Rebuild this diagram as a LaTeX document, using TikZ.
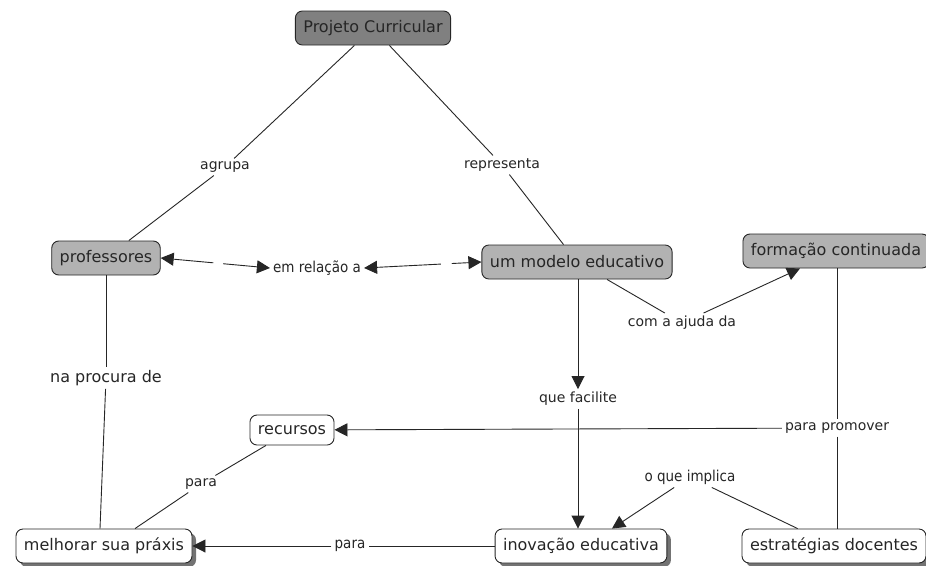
\documentclass[tikz,border=0pt]{standalone}
\usepackage{fontspec}
\setmainfont{DejaVu Sans}
\newfontfamily\condfont{DejaVu Sans Condensed}
\usetikzlibrary{arrows.meta,shadows}
\begin{document}
\begin{tikzpicture}[x=1pt,y=-1pt,
  concept/.style={draw=black!85,line width=0.9pt,rounded corners=7pt,inner xsep=8pt,
    font=\fontsize{16}{18}\selectfont,text=black!85,minimum height=34pt},
  graybox/.style={concept,fill=black!30},
  darkbox/.style={concept,fill=black!50},
  plainbox/.style={concept,fill=white},
  whitebox/.style={concept,fill=white,drop shadow={shadow xshift=4pt,shadow yshift=-4pt,fill=black!55,opacity=1}},
  lbl/.style={font=\fontsize{14}{16}\selectfont,text=black!85,inner sep=3pt},
  clbl/.style={font=\condfont\fontsize{15}{17}\selectfont,text=black!85,inner sep=3pt},
  conn/.style={draw=black!85,line width=0.9pt},
  arr/.style={conn,-{Triangle[length=13pt,width=13pt]}},
]
\useasboundingbox[fill=white] (0,0) rectangle (926,565);
% concepts
\node[darkbox] (pc) at (373,28) {Projeto Curricular};
\node[graybox] (prof) at (106,258) {professores};
\node[graybox] (mod) at (577,262) {um modelo educativo};
\node[graybox] (form) at (836,251) {formação continuada};
\node[plainbox,minimum height=30pt] (rec) at (292,430) {recursos};
\node[whitebox] (mel) at (104,546) {melhorar sua práxis};
\node[whitebox] (ino) at (581,546) {inovação educativa};
\node[whitebox] (est) at (834,546) {estratégias docentes};
% linking phrases
\node[lbl] (agr) at (225,167) {agrupa};
\node[lbl] (rep) at (502,165) {representa};
\node[clbl] (rel) at (317,268) {em relação a};
\node[lbl] (aju) at (682,323) {com a ajuda da};
\node[lbl] (fac) at (578,399) {que facilite};
\node[font=\fontsize{16}{18}\selectfont,text=black!85,inner sep=3pt] (npd) at (106,378) {na procura de};
\node[lbl] (prom) at (837,428) {para promover};
\node[lbl] (p1) at (201,484) {para};
\node[clbl] (imp) at (690,477) {o que implica};
\node[clbl] (p2) at (350,546) {para};
% connections
\draw[conn] (pc) -- (agr);
\draw[conn] (agr) -- (prof);
\draw[conn] (pc) -- (rep);
\draw[conn] (rep) -- (mod);
\draw[conn,{Triangle[length=13pt,width=13pt]}-{Triangle[length=13pt,width=13pt]},dash pattern=on 40pt off 10pt on 200pt] (prof.east) -- (rel.west);
\draw[conn,{Triangle[length=13pt,width=13pt]}-{Triangle[length=13pt,width=13pt]},dash pattern=on 64pt off 11pt on 200pt] (rel.east) -- (mod.west);
\draw[conn] (mod) -- (aju);
\draw[arr] (aju) -- (form.south west -| 800,0);
\draw[arr] (mod.south -| fac) -- (fac);
\draw[arr] (fac) -- (ino.north -| fac);
\draw[conn] (form.south -| prom) -- (prom);
\draw[conn] (prom) -- (est.north -| prom);
\draw[arr] (prom) -- (rec);
\draw[conn] (est) -- (imp);
\draw[arr] (imp) -- (ino.north -| 612,0);
\draw[conn] (ino) -- (p2);
\draw[arr] (p2) -- (mel);
\draw[conn] (rec) -- (p1);
\draw[conn] (p1) -- (mel.north -| 135,0);
\draw[conn] (prof) -- (npd);
\draw[conn] (npd) -- (mel.north -| 100,0);
\end{tikzpicture}
\end{document}
